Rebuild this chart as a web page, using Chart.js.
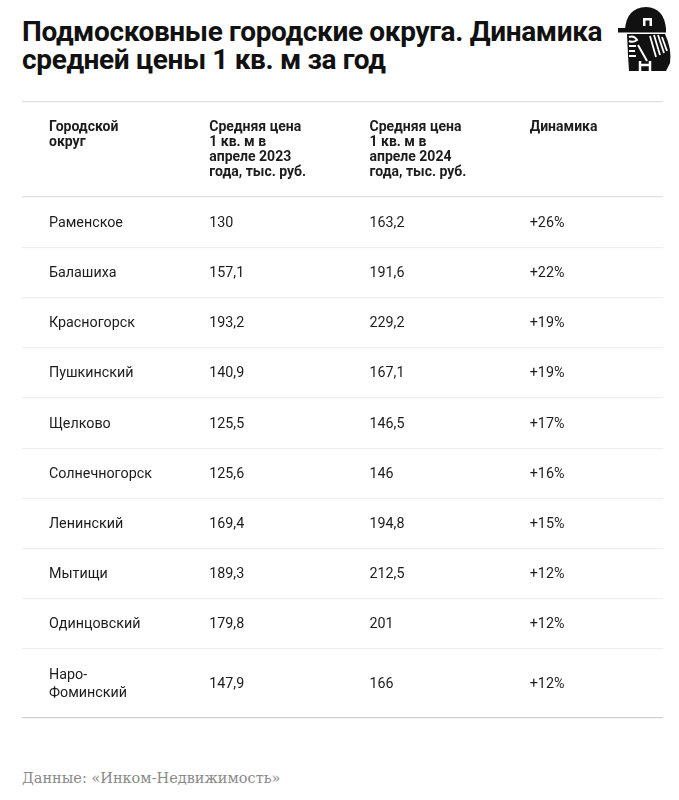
<!DOCTYPE html>
<html>
<head>
<meta charset="utf-8">
<script src="https://cdn.jsdelivr.net/npm/chart.js@4"></script>
<style>
  body { margin: 0; background: #fff; width: 679px; height: 800px; position: relative; overflow: hidden; }
  #title { position: absolute; left: 22px; top: 18px; font: 700 28px Roboto, sans-serif; line-height: 28px; letter-spacing: -0.35px; color: #111; }
  #logo { position: absolute; left: 615px; top: 5px; }
  #wrap { position: absolute; left: 0; top: 100px; width: 679px; height: 620px; }
  #source { position: absolute; left: 22px; top: 770px; font: 14.5px "DejaVu Serif", serif; color: #8a8a8a; }
</style>
</head>
<body>
<div id="title">Подмосковные городские округа. Динамика<br>средней цены 1 кв. м за год</div>
<svg id="logo" width="60" height="75" viewBox="0 0 60 75">
  <path d="M10 25 Q11 3 31 2 Q50 3 51 25 Z" fill="#111"/>
  <rect x="3" y="23" width="48" height="4.5" fill="#111"/>
  <rect x="28" y="13" width="9" height="8" fill="#fff"/>
  <rect x="30.5" y="15.5" width="4" height="5.5" fill="#111"/>
  <path d="M12 29 L50 29 Q57 44 55 58 L51 66 L14 66 L13 50 Z" fill="#111"/>
  <path d="M14 32 Q19 30 22 35 Q18 38 14 36" stroke="#fff" stroke-width="2" fill="none"/>
  <path d="M35 31 L41 52 M39 30 L45 50 M43 30 L49 48 M47 32 L52 46" stroke="#fff" stroke-width="1.8"/>
  <path d="M14 41 L21 41 M14 46 L20 46 M14 51 L21 51 M23 40 L32 56" stroke="#fff" stroke-width="2"/>
  <path d="M25 56 L25 66 M35 56 L35 66 M25 60 L35 60" stroke="#fff" stroke-width="2.5"/>
</svg>
<div id="wrap"><canvas id="table-chart"></canvas></div>
<div id="source">Данные: «Инком-Недвижимость»</div>

<script>
// Table content
const headers = [
  ['Городской', 'округ'],
  ['Средняя цена', '1 кв. м в', 'апреле 2023', 'года, тыс. руб.'],
  ['Средняя цена', '1 кв. м в', 'апреле 2024', 'года, тыс. руб.'],
  ['Динамика']
];
const districts = ['Раменское', 'Балашиха', 'Красногорск', 'Пушкинский', 'Щелково',
  'Солнечногорск', 'Ленинский', 'Мытищи', 'Одинцовский', 'Наро-\nФоминский'];
const price2023 = [130, 157.1, 193.2, 140.9, 125.5, 125.6, 169.4, 189.3, 179.8, 147.9];
const price2024 = [163.2, 191.6, 229.2, 167.1, 146.5, 146, 194.8, 212.5, 201, 166];
const change = [26, 22, 19, 19, 17, 16, 15, 12, 12, 12];

const fmt = v => String(v).replace('.', ',');
const cells = districts.map((d, i) => [d.split('\n'), [fmt(price2023[i])], [fmt(price2024[i])], ['+' + change[i] + '%']]);

// row heights in y-units (one unit = one pixel at this size)
const headerH = 95;
const rowH = lines => 50.2 + 18.8 * (lines - 1);
const bounds = [0, headerH];
cells.forEach(r => bounds.push(bounds[bounds.length - 1] + rowH(Math.max(...r.map(c => c.length)))));
const total = bounds[bounds.length - 1];

const colOffset = 27 / 160.25;

const tableText = {
  id: 'tableText',
  afterDraw(chart) {
    const { ctx, scales: { x, y } } = chart;
    ctx.save();
    ctx.fillStyle = '#1c1c1c';
    ctx.textAlign = 'left';
    ctx.textBaseline = 'middle';
    ctx.font = '700 14px Roboto, sans-serif';
    headers.forEach((lines, c) => {
      lines.forEach((t, k) => {
        ctx.fillText(t, x.getPixelForValue(c + colOffset), y.getPixelForValue(0) + 25 + k * 15.3);
      });
    });
    ctx.font = '14.3px Roboto, sans-serif';
    cells.forEach((row, r) => {
      const mid = y.getPixelForValue((bounds[r + 1] + bounds[r + 2]) / 2) + 1;
      row.forEach((lines, c) => {
        lines.forEach((t, k) => {
          ctx.fillText(t, x.getPixelForValue(c + colOffset), mid + (k - (lines.length - 1) / 2) * 18.5);
        });
      });
    });
    ctx.restore();
  }
};

const ctx = document.getElementById('table-chart').getContext('2d');

const tableChart = new Chart(ctx, {
  type: 'scatter',
  data: { datasets: [{ data: [] }] },
  options: {
    responsive: true,
    maintainAspectRatio: false,
    animation: false,
    layout: { padding: { left: 22, right: 16, top: 2, bottom: 2 } },
    plugins: { legend: { display: false }, tooltip: { enabled: false } },
    scales: {
      x: { type: 'linear', min: 0, max: 4, display: false },
      y: {
        type: 'linear', min: 0, max: total, reverse: true,
        afterBuildTicks: scale => { scale.ticks = bounds.map(v => ({ value: v })); },
        ticks: { display: false },
        border: { display: false },
        grid: {
          drawTicks: false,
          lineWidth: 1.2,
          color: c => c.index <= 1 ? '#dedede' : (c.index === bounds.length - 1 ? '#cfcfcf' : '#efefef')
        }
      }
    }
  },
  plugins: [tableText]
});
</script>
</body>
</html>
